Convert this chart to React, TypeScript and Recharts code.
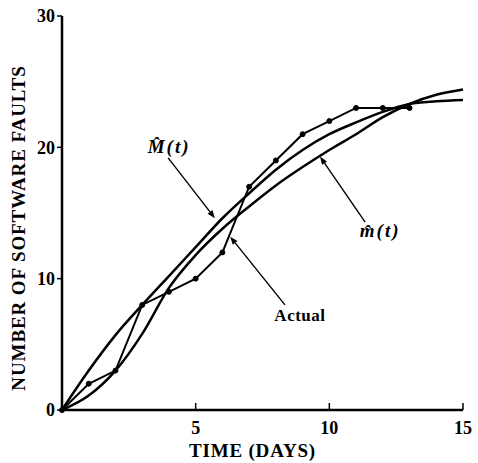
import { LineChart, Line, XAxis, YAxis, ReferenceLine, Label } from "recharts";

// time in days
const days = [0, 1, 2, 3, 4, 5, 6, 7, 8, 9, 10, 11, 12, 13, 14, 15];
// observed cumulative faults (stops at day 13)
const actual = [0, 2, 3, 8, 9, 10, 12, 17, 19, 21, 22, 23, 23, 23];
// fitted curves
const bigMHat = [0, 3.0, 5.7, 8.0, 10.2, 12.4, 14.6, 16.5, 18.3, 19.8, 21.0, 21.9, 22.7, 23.3, 23.5, 23.6];
const smallMHat = [0, 1.1, 3.0, 5.8, 9.3, 11.8, 13.8, 15.5, 17.1, 18.5, 19.8, 21.0, 22.3, 23.3, 24.0, 24.4];

const yTicks = [0, 10, 20, 30];
const xTicks = [5, 10, 15];

// annotation arrows: [fromT, fromY, toT, toY]
const arrowBigM = [3.97, 19.2, 5.72, 14.6];
const arrowSmallM = [11.34, 14.3, 9.65, 19.3];
const arrowActual = [8.34, 8.0, 6.29, 13.2];

const data = days.map((t, i) => ({
  t,
  actual: i < actual.length ? actual[i] : null,
  M: bigMHat[i],
  m: smallMHat[i],
}));

const FONT = "'Liberation Serif', 'DejaVu Serif', serif";
const TICK_GAP = 11;

const XTick = (props: any) => {
  const { x, y, payload } = props;
  const axisY = y - TICK_GAP;
  return (
    <g>
      <line x1={x} y1={axisY} x2={x} y2={axisY - 7} stroke="#000" strokeWidth={1.5} />
      <text x={x} y={y} dy="0.71em" textAnchor="middle" fontFamily={FONT} fontWeight="bold" fontSize={18} fill="#000">
        {payload.value}
      </text>
    </g>
  );
};

const Arrow = (props: any) => {
  const { x1, y1, x2, y2, text, dx, dy, italic } = props;
  const ang = Math.atan2(y2 - y1, x2 - x1);
  const len = 8;
  const w = 3;
  const bx = x2 - len * Math.cos(ang);
  const by = y2 - len * Math.sin(ang);
  const px = -Math.sin(ang) * w;
  const py = Math.cos(ang) * w;
  return (
    <g>
      <line x1={x1} y1={y1} x2={bx} y2={by} stroke="#000" strokeWidth={1.4} />
      <polygon points={`${x2},${y2} ${bx + px},${by + py} ${bx - px},${by - py}`} fill="#000" />
      <text
        x={x1 + dx}
        y={y1 + dy}
        textAnchor="middle"
        fontFamily={FONT}
        fontWeight="bold"
        fontStyle={italic ? "italic" : "normal"}
        fontSize={italic ? 19 : 17}
        letterSpacing={italic ? 2 : 0.5}
        fill="#000"
      >
        {text}
      </text>
    </g>
  );
};

const YLabel = (props: any) => {
  const { viewBox } = props;
  const cx = 18;
  const cy = viewBox.y + viewBox.height / 2 + 15;
  return (
    <text
      x={cx}
      y={cy}
      transform={`rotate(-90 ${cx} ${cy})`}
      textAnchor="middle"
      dominantBaseline="central"
      fontFamily={FONT}
      fontWeight="bold"
      fontSize={19}
      letterSpacing={0.9}
      fill="#000"
    >
      NUMBER OF SOFTWARE FAULTS
    </text>
  );
};

const seg = (a: number[]) => [
  { x: a[0], y: a[1] },
  { x: a[2], y: a[3] },
];

export default function App() {
  return (
    <div style={{ position: "absolute", left: 0, top: 0, background: "#fff" }}>
      <LineChart width={478} height={463} data={data} margin={{ top: 16, right: 15, bottom: 0, left: 0 }}>
        <XAxis
          type="number"
          dataKey="t"
          domain={[0, 15]}
          ticks={xTicks}
          height={53}
          axisLine={{ stroke: "#000", strokeWidth: 2.5 }}
          tickLine={false}
          tickSize={0}
          tickMargin={TICK_GAP}
          tick={<XTick />}
        >
          <Label
            value="TIME (DAYS)"
            position="insideBottom"
            offset={6}
            dx={-10}
            style={{ fontFamily: FONT, fontWeight: "bold", fontSize: 19, letterSpacing: 0.8, fill: "#000" }}
          />
        </XAxis>
        <YAxis
          type="number"
          domain={[0, 30]}
          ticks={yTicks}
          width={62}
          axisLine={{ stroke: "#000", strokeWidth: 2.5 }}
          tickLine={{ stroke: "#000", strokeWidth: 1.5 }}
          tickSize={5}
          tickMargin={2}
          tick={{ fontFamily: FONT, fontWeight: "bold", fontSize: 18, fill: "#000" }}
        >
          <Label content={<YLabel />} />
        </YAxis>
        <Line type="monotone" dataKey="M" stroke="#000" strokeWidth={2.5} dot={false} isAnimationActive={false} />
        <Line type="monotone" dataKey="m" stroke="#000" strokeWidth={2.5} dot={false} isAnimationActive={false} />
        <Line
          type="linear"
          dataKey="actual"
          stroke="#000"
          strokeWidth={2}
          dot={{ r: 2.5, fill: "#000", stroke: "#000", strokeWidth: 1 }}
          connectNulls={false}
          isAnimationActive={false}
        />
        <ReferenceLine
          segment={seg(arrowBigM)}
          shape={(p: any) => <Arrow {...p} text={"M\u0302(t)"} dx={1} dy={-5} italic />}
        />
        <ReferenceLine
          segment={seg(arrowSmallM)}
          shape={(p: any) => <Arrow {...p} text={"m\u0302(t)"} dx={15} dy={15} italic />}
        />
        <ReferenceLine
          segment={seg(arrowActual)}
          shape={(p: any) => <Arrow {...p} text="Actual" dx={15} dy={16} />}
        />
      </LineChart>
    </div>
  );
}
